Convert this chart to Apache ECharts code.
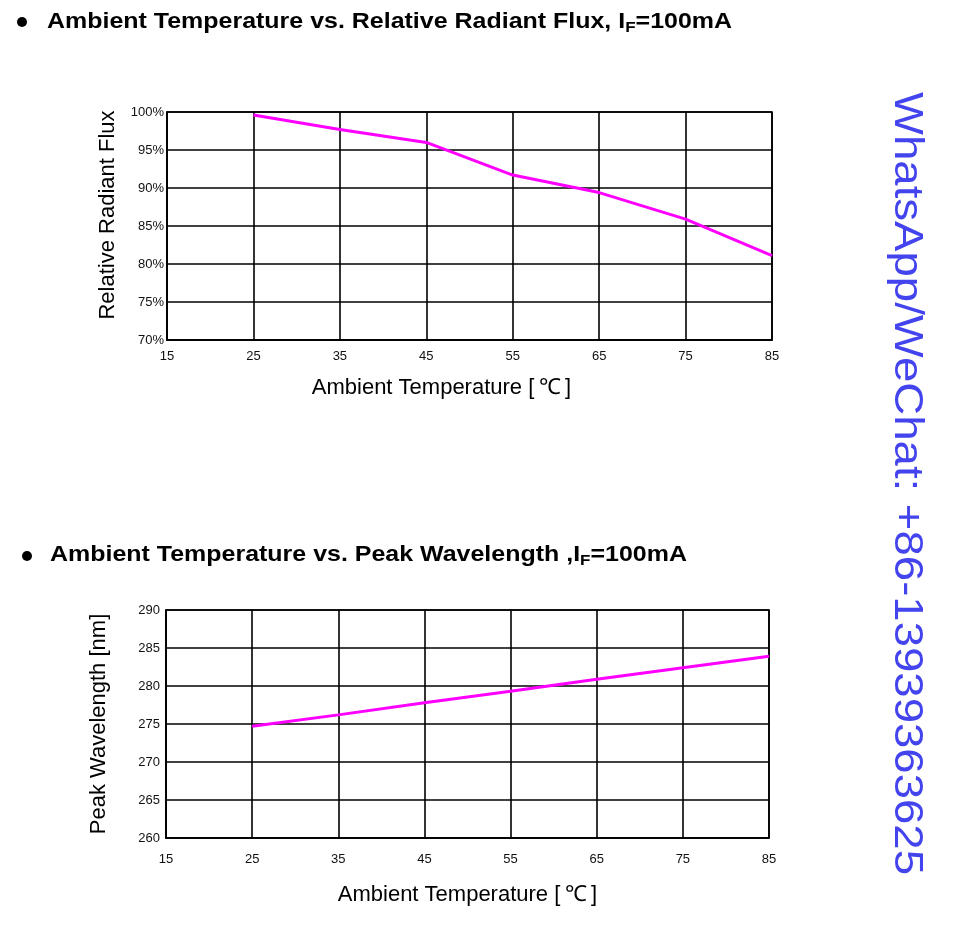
<!DOCTYPE html>
<html>
<head>
<meta charset="utf-8">
<script src="https://cdn.jsdelivr.net/npm/echarts@6/dist/echarts.min.js"></script>
<style>
html,body{margin:0;padding:0;background:#fff;}
#main{width:960px;height:927px;}
</style>
</head>
<body>
<div id="main"></div>
<script>
// Chart 1: Ambient Temperature vs. Relative Radiant Flux
var temps = [25, 35, 45, 55, 65, 75, 85];
var fluxValues = [99.6, 97.7, 96.0, 91.7, 89.4, 85.9, 81.1];
// Chart 2: Ambient Temperature vs. Peak Wavelength
var wavelengthValues = [274.7, 276.2, 277.8, 279.3, 280.9, 282.4, 283.9];

var xTicks = [15, 25, 35, 45, 55, 65, 75, 85];
var fluxTicks = [70, 75, 80, 85, 90, 95, 100];
var wlTicks = [260, 265, 270, 275, 280, 285, 290];

var title1 = 'Ambient Temperature vs. Relative Radiant Flux,';
var title2 = 'Ambient Temperature vs. Peak Wavelength ,';
var subtitlePart = ['I', 'F', '=100mA'];
var xName = 'Ambient Temperature [\u2009\u2103\u2009]';
var y1Name = 'Relative Radiant Flux';
var y2Name = 'Peak Wavelength [nm]';
var watermark = 'WhatsApp/WeChat: +86-13939363625';

function pairs(xs, ys) {
  return xs.map(function (x, i) { return [x, ys[i]]; });
}

var FONT = 'Arial, "Liberation Sans", sans-serif';
var wmFont = 'normal 41px "Liberation Sans", Arial, sans-serif';
var cv = document.createElement('canvas').getContext('2d');
cv.font = wmFont;
var wmWidth = cv.measureText(watermark).width;
var wmScale = 783 / wmWidth;

var chart = echarts.init(document.getElementById('main'), null, {renderer: 'canvas'});

var lineStyleGrid = {color: '#000', width: 1.6};
var labelFont = {fontFamily: FONT, fontSize: 13, color: '#111'};

function xAxisDef(gridIndex, gap, labelMargin, pad) {
  return {
    type: 'value', gridIndex: gridIndex, min: xTicks[0], max: xTicks[xTicks.length - 1], interval: 10,
    name: xName, nameLocation: 'middle', nameGap: gap,
    nameTextStyle: {fontFamily: FONT, fontSize: 22, color: '#000', padding: pad},
    axisLine: {show: true, lineStyle: lineStyleGrid},
    axisTick: {show: false},
    axisLabel: Object.assign({margin: labelMargin}, labelFont),
    splitLine: {show: true, lineStyle: lineStyleGrid}
  };
}

function titleRich() {
  return {
    b: {fontFamily: FONT, fontWeight: 'bold', fontSize: 22, fill: '#000', lineHeight: 26},
    s: {fontFamily: FONT, fontWeight: 'bold', fontSize: 15, fill: '#000', lineHeight: 26, verticalAlign: 'bottom', padding: [6, 0, 0, 0]}
  };
}

var option = {
  animation: false,
  backgroundColor: '#fff',
  grid: [
    {left: 167, top: 112, width: 605, height: 228, show: true, borderColor: '#000', borderWidth: 1.6},
    {left: 166, top: 610, width: 603, height: 228, show: true, borderColor: '#000', borderWidth: 1.6}
  ],
  xAxis: [
    xAxisDef(0, 37, 10, [0, 56, 0, 0]),
    xAxisDef(1, 46, 15, [0, 0, 0, 0])
  ],
  yAxis: [
    {
      type: 'value', gridIndex: 0, min: fluxTicks[0], max: fluxTicks[fluxTicks.length - 1], interval: 5,
      name: y1Name, nameLocation: 'middle', nameGap: 48, nameRotate: 90,
      nameTextStyle: {fontFamily: FONT, fontSize: 22, color: '#000', padding: [0, 0, 0, 22]},
      axisLine: {show: true, lineStyle: lineStyleGrid},
      axisTick: {show: false},
      axisLabel: Object.assign({margin: 3, formatter: '{value}%'}, labelFont),
      splitLine: {show: true, lineStyle: lineStyleGrid}
    },
    {
      type: 'value', gridIndex: 1, min: wlTicks[0], max: wlTicks[wlTicks.length - 1], interval: 5,
      name: y2Name, nameLocation: 'middle', nameGap: 56, nameRotate: 90,
      nameTextStyle: {fontFamily: FONT, fontSize: 22, color: '#000'},
      axisLine: {show: true, lineStyle: lineStyleGrid},
      axisTick: {show: false},
      axisLabel: Object.assign({margin: 6}, labelFont),
      splitLine: {show: true, lineStyle: lineStyleGrid}
    }
  ],
  series: [
    {
      type: 'line', xAxisIndex: 0, yAxisIndex: 0, data: pairs(temps, fluxValues),
      showSymbol: false, symbol: 'none', lineStyle: {color: '#f0f', width: 3}, z: 5
    },
    {
      type: 'line', xAxisIndex: 1, yAxisIndex: 1, data: pairs(temps, wavelengthValues),
      showSymbol: false, symbol: 'none', lineStyle: {color: '#f0f', width: 3}, z: 5
    }
  ],
  graphic: [
    {type: 'circle', shape: {cx: 22, cy: 22, r: 5}, style: {fill: '#000'}},
    {
      type: 'text', x: 47, y: 9, scaleX: 1.135,
      style: {
        text: '{b|' + title1 + ' ' + subtitlePart[0] + '}{s|' + subtitlePart[1] + '}{b|' + subtitlePart[2] + '}',
        rich: titleRich()
      }
    },
    {type: 'circle', shape: {cx: 27, cy: 556, r: 5}, style: {fill: '#000'}},
    {
      type: 'text', x: 50, y: 542, scaleX: 1.135,
      style: {
        text: '{b|' + title2 + subtitlePart[0] + '}{s|' + subtitlePart[1] + '}{b|' + subtitlePart[2] + '}',
        rich: titleRich()
      }
    },
    {
      type: 'text', x: 906, y: 92, rotation: -Math.PI / 2, scaleX: wmScale,
      style: {
        text: watermark, fill: '#4444ee', font: wmFont,
        textAlign: 'left', textVerticalAlign: 'middle'
      }
    }
  ]
};
chart.setOption(option);
</script>
</body>
</html>
